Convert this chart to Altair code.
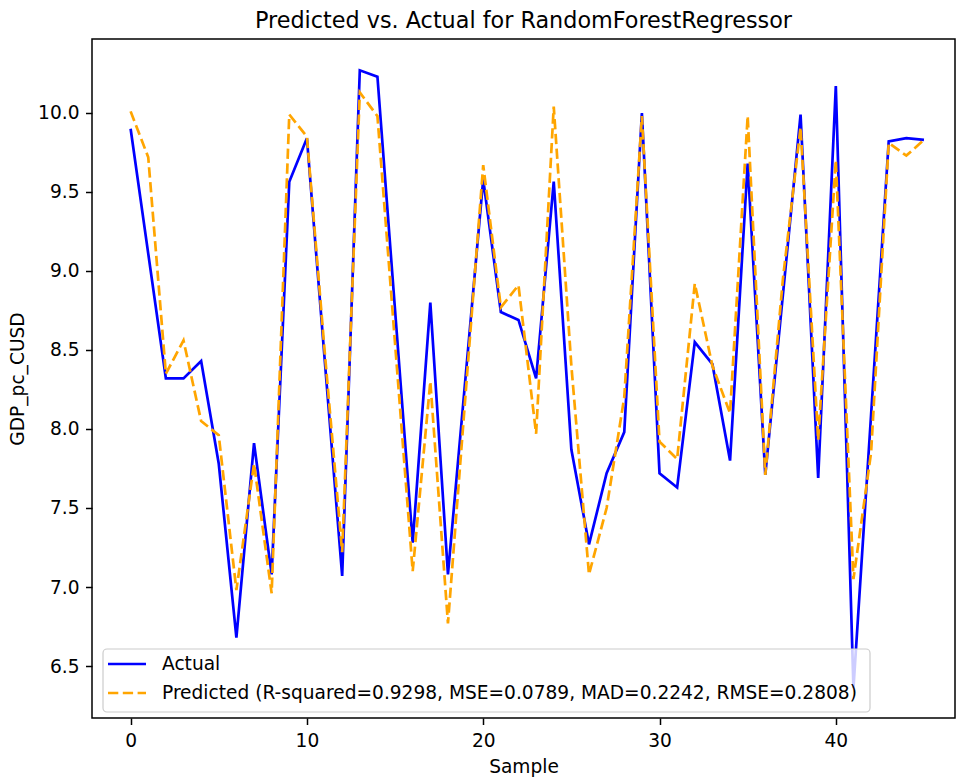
import altair as alt
import pandas as pd

# ---- data ----
samples = list(range(46))
actual = [9.90, 9.11, 8.32, 8.32, 8.43, 7.78, 6.68, 7.91, 7.08, 9.565,
          9.84, 8.45, 7.07, 10.27, 10.23, 8.75, 7.28, 8.80, 7.08, 8.33,
          9.58, 8.74, 8.69, 8.32, 9.565, 7.87, 7.27, 7.72, 7.98, 10.0,
          7.72, 7.63, 8.55, 8.41, 7.80, 9.68, 7.71, 8.85, 9.99, 7.69,
          10.17, 6.36, 8.09, 9.82, 9.84, 9.83]
predicted = [10.01, 9.72, 8.35, 8.56, 8.05, 7.96, 6.98, 7.78, 6.96, 9.99,
             9.85, 8.50, 7.22, 10.13, 9.98, 8.54, 7.10, 8.30, 6.77, 8.22,
             9.67, 8.77, 8.91, 7.97, 10.04, 8.40, 7.08, 7.50, 8.20, 9.98,
             7.92, 7.81, 8.92, 8.40, 8.10, 9.98, 7.71, 8.95, 9.91, 7.93,
             9.70, 7.05, 7.85, 9.81, 9.73, 9.83]
x_ticks = [0, 10, 20, 30, 40]
y_ticks = [6.5, 7.0, 7.5, 8.0, 8.5, 9.0, 9.5, 10.0]
legend_labels = ["Actual",
                 "Predicted (R-squared=0.9298, MSE=0.0789, MAD=0.2242, RMSE=0.2808)"]
title_text = "Predicted vs. Actual for RandomForestRegressor"

df_a = pd.DataFrame({"Sample": samples, "value": actual})
df_p = pd.DataFrame({"Sample": samples, "value": predicted})

FONT = "DejaVu Sans"
FS = 18.6
W, H = 863, 679

xscale = alt.Scale(domain=[-2.19, 46.76], nice=False, zero=False)
yscale = alt.Scale(domain=[6.171, 10.468], nice=False, zero=False)

xenc = alt.X("Sample:Q", scale=xscale,
             axis=alt.Axis(values=x_ticks, title="Sample", grid=False, domain=False,
                           format="d", titlePadding=8))
yenc = alt.Y("value:Q", scale=yscale,
             axis=alt.Axis(values=y_ticks, title="GDP_pc_CUSD", grid=False, domain=False,
                           format=".1f", titlePadding=10))

line_a = alt.Chart(df_a).mark_line(color="#0000ff", strokeWidth=2.7).encode(x=xenc, y=yenc)
line_p = alt.Chart(df_p).mark_line(color="#ffa500", strokeWidth=2.7,
                                   strokeDash=[10.3, 4.5]).encode(x=xenc, y=yenc)

dummy = pd.DataFrame({"k": [0]})
leg_box = alt.Chart(dummy).mark_rect(fill="white", fillOpacity=0.8, stroke="#cccccc",
                                     strokeWidth=1.2, cornerRadius=4).encode(
    x=alt.value(11), x2=alt.value(778), y=alt.value(610), y2=alt.value(673))
leg_a = alt.Chart(dummy).mark_rule(color="#0000ff", strokeWidth=2.7).encode(
    x=alt.value(16), x2=alt.value(54), y=alt.value(625))
leg_p = alt.Chart(dummy).mark_rule(color="#ffa500", strokeWidth=2.7,
                                   strokeDash=[10.3, 4.5]).encode(
    x=alt.value(16), x2=alt.value(54), y=alt.value(654))
txt_a = alt.Chart(dummy).mark_text(align="left", baseline="middle", font=FONT,
                                   fontSize=FS, color="black").encode(
    x=alt.value(70), y=alt.value(625), text=alt.value(legend_labels[0]))
txt_p = alt.Chart(dummy).mark_text(align="left", baseline="middle", font=FONT,
                                   fontSize=FS, color="black").encode(
    x=alt.value(70), y=alt.value(654), text=alt.value(legend_labels[1]))

chart = alt.layer(line_a, line_p, leg_box, leg_a, leg_p, txt_a, txt_p).properties(
    width=W, height=H,
    background="white",
    title=alt.TitleParams(title_text, font=FONT, fontSize=22.3, fontWeight="normal",
                          color="black", anchor="middle", baseline="alphabetic",
                          offset=12, dy=23),
    padding={"left": 92, "top": 39, "right": 2, "bottom": 62},
    autosize=alt.AutoSizeParams(type="none"),
).configure_view(
    stroke="black", strokeWidth=1.5
).configure_axis(
    labelFont=FONT, labelFontSize=FS, labelColor="black",
    titleFont=FONT, titleFontSize=FS, titleColor="black", titleFontWeight="normal",
    tickColor="black", tickWidth=1.5, tickSize=6.5, labelPadding=6.5,
)

chart.save("out.html", embed_options={"renderer": "svg", "actions": False})
